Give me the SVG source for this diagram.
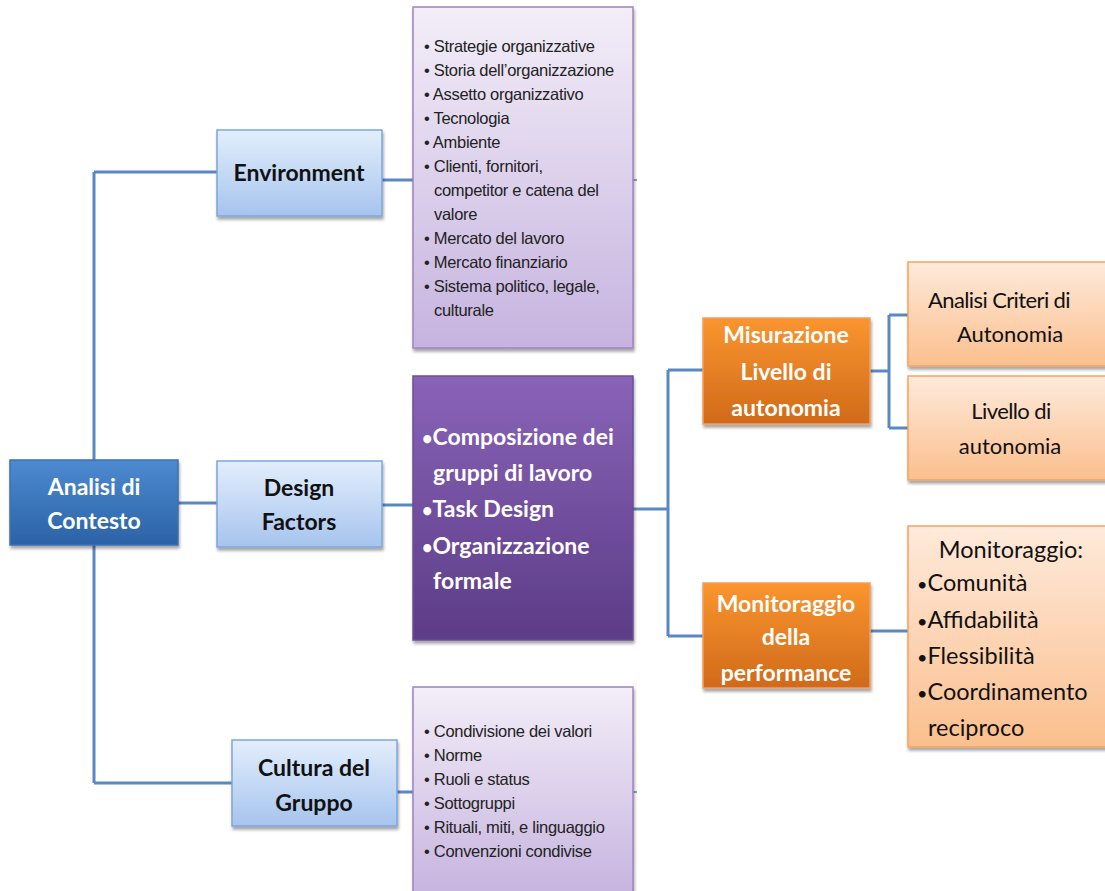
<svg xmlns="http://www.w3.org/2000/svg" width="1105" height="891" viewBox="0 0 1105 891">
  <defs>
    <linearGradient id="gDarkBlue" x1="0" y1="0" x2="0" y2="1">
      <stop offset="0" stop-color="#4d8ad0"/>
      <stop offset="1" stop-color="#2b62a6"/>
    </linearGradient>
    <linearGradient id="gLightBlue" x1="0" y1="0" x2="0" y2="1">
      <stop offset="0" stop-color="#e3eefc"/>
      <stop offset="1" stop-color="#a6c4ee"/>
    </linearGradient>
    <linearGradient id="gLilac" x1="0" y1="0" x2="0" y2="1">
      <stop offset="0" stop-color="#f3eef8"/>
      <stop offset="1" stop-color="#c6b3df"/>
    </linearGradient>
    <linearGradient id="gPurple" x1="0" y1="0" x2="0" y2="1">
      <stop offset="0" stop-color="#8963b8"/>
      <stop offset="1" stop-color="#5c3c86"/>
    </linearGradient>
    <linearGradient id="gOrange" x1="0" y1="0" x2="0" y2="1">
      <stop offset="0" stop-color="#fa952f"/>
      <stop offset="1" stop-color="#d06a1a"/>
    </linearGradient>
    <linearGradient id="gPeach" x1="0" y1="0" x2="0" y2="1">
      <stop offset="0" stop-color="#feeadb"/>
      <stop offset="1" stop-color="#fbbf8d"/>
    </linearGradient>
    <filter id="shadow" x="-10%" y="-10%" width="120%" height="125%">
      <feDropShadow dx="1" dy="3" stdDeviation="1.5" flood-color="#000" flood-opacity="0.35"/>
    </filter>
  </defs>
  <style>
    .link { fill: none; stroke: #5a88c2; stroke-width: 3; }
    .stub { fill: none; stroke: #5a88c2; stroke-width: 1.5; }
    .box { filter: url(#shadow); stroke-width: 1.5; }
    .dblue { fill: url(#gDarkBlue); stroke: #3c70b0; }
    .lblue { fill: url(#gLightBlue); stroke: #7ea6dc; }
    .lilac { fill: url(#gLilac); stroke: #9c84c2; }
    .purple { fill: url(#gPurple); stroke: #6d4d98; }
    .orange { fill: url(#gOrange); stroke: #f0a060; }
    .peach { fill: url(#gPeach); stroke: #f5a263; }
    .head { font-family: Lato, "Liberation Sans", sans-serif; font-weight: bold; font-size: 23px; text-anchor: middle; }
    .white { fill: #ffffff; }
    .black { fill: #111111; }
    .list { font-family: "Liberation Sans", Arial, sans-serif; font-size: 16.5px; fill: #222222; letter-spacing: -0.3px; }
    .big { font-family: Lato, "Liberation Sans", sans-serif; font-weight: bold; font-size: 23px; fill: #ffffff; }
    .peachtxt { font-family: Lato, "Liberation Sans", sans-serif; font-size: 22px; fill: #111111; text-anchor: middle; }
    .tight { letter-spacing: -0.6px; }
    .mlist { font-family: Lato, "Liberation Sans", sans-serif; font-size: 23.5px; fill: #111111; }
    .dot { font-size: 18px; }
  </style>

  <!-- connectors -->
  <g id="connectors">
    <path class="link" d="M94 172 V783"/>
    <path class="link" d="M94 172 H217"/>
    <path class="link" d="M178 503 H217"/>
    <path class="link" d="M94 783 H232"/>
    <path class="link" d="M382 180 H413"/>
    <path class="link" d="M382 505 H413"/>
    <path class="link" d="M397 792 H413"/>
    <path class="stub" d="M633 180 H637"/>
    <path class="stub" d="M633 792 H637"/>
    <path class="link" d="M633 509 H668"/>
    <path class="link" d="M668 370 V636"/>
    <path class="link" d="M668 370 H703"/>
    <path class="link" d="M668 636 H703"/>
    <path class="link" d="M870 371 H889"/>
    <path class="link" d="M889 315 V428"/>
    <path class="link" d="M889 315 H908"/>
    <path class="link" d="M889 428 H908"/>
    <path class="link" d="M870 631 H908"/>
  </g>

  <!-- root -->
  <g id="analisi-contesto">
    <rect class="box dblue" x="10" y="460" width="168" height="85"/>
    <text class="head white" x="94" y="495">Analisi di</text>
    <text class="head white" x="94" y="529">Contesto</text>
  </g>

  <!-- first level -->
  <g id="environment">
    <rect class="box lblue" x="217" y="130" width="165" height="86"/>
    <text class="head black" x="299" y="181">Environment</text>
  </g>
  <g id="design-factors">
    <rect class="box lblue" x="217" y="461" width="165" height="86"/>
    <text class="head black" x="299" y="496">Design</text>
    <text class="head black" x="299" y="530">Factors</text>
  </g>
  <g id="cultura-gruppo">
    <rect class="box lblue" x="232" y="740" width="165" height="86"/>
    <text class="head black" x="314" y="776">Cultura del</text>
    <text class="head black" x="314" y="811">Gruppo</text>
  </g>

  <!-- environment factors -->
  <g id="environment-list">
    <rect class="box lilac" x="413" y="7" width="220" height="341"/>
    <g class="list">
      <text x="424" y="52">• Strategie organizzative</text>
      <text x="424" y="76">• Storia dell’organizzazione</text>
      <text x="424" y="100">• Assetto organizzativo</text>
      <text x="424" y="124">• Tecnologia</text>
      <text x="424" y="148">• Ambiente</text>
      <text x="424" y="172">• Clienti, fornitori,</text>
      <text x="434" y="196">competitor e catena del</text>
      <text x="434" y="220">valore</text>
      <text x="424" y="244">• Mercato del lavoro</text>
      <text x="424" y="268">• Mercato finanziario</text>
      <text x="424" y="292">• Sistema politico, legale,</text>
      <text x="434" y="316">culturale</text>
    </g>
  </g>

  <!-- design factors detail -->
  <g id="design-list">
    <rect class="box purple" x="413" y="376" width="220" height="264"/>
    <g class="big">
      <text x="422" y="445"><tspan class="dot">•</tspan>Composizione dei</text>
      <text x="433" y="481">gruppi di lavoro</text>
      <text x="422" y="517"><tspan class="dot">•</tspan>Task Design</text>
      <text x="422" y="554"><tspan class="dot">•</tspan>Organizzazione</text>
      <text x="433" y="589">formale</text>
    </g>
  </g>

  <!-- group culture factors -->
  <g id="cultura-list">
    <rect class="box lilac" x="413" y="687" width="220" height="210"/>
    <g class="list">
      <text x="424" y="737">• Condivisione dei valori</text>
      <text x="424" y="761">• Norme</text>
      <text x="424" y="785">• Ruoli e status</text>
      <text x="424" y="809">• Sottogruppi</text>
      <text x="424" y="833">• Rituali, miti, e linguaggio</text>
      <text x="424" y="857">• Convenzioni condivise</text>
    </g>
  </g>

  <!-- measurement branch -->
  <g id="misurazione">
    <rect class="box orange" x="703" y="318" width="167" height="106"/>
    <text class="head white" x="786" y="343">Misurazione</text>
    <text class="head white" x="786" y="380">Livello di</text>
    <text class="head white" x="786" y="416">autonomia</text>
  </g>
  <g id="analisi-criteri">
    <rect class="box peach" x="908" y="262" width="200" height="104"/>
    <text class="peachtxt tight" x="999" y="308">Analisi Criteri di</text>
    <text class="peachtxt" x="1010" y="342">Autonomia</text>
  </g>
  <g id="livello-autonomia">
    <rect class="box peach" x="908" y="376" width="200" height="104"/>
    <text class="peachtxt tight" x="1011" y="419">Livello di</text>
    <text class="peachtxt" x="1010" y="454">autonomia</text>
  </g>

  <!-- monitoring branch -->
  <g id="monitoraggio-performance">
    <rect class="box orange" x="703" y="583" width="167" height="105"/>
    <text class="head white" x="786" y="612">Monitoraggio</text>
    <text class="head white" x="786" y="645">della</text>
    <text class="head white" x="786" y="681">performance</text>
  </g>
  <g id="monitoraggio-list">
    <rect class="box peach" x="908" y="526" width="200" height="221"/>
    <g class="mlist">
      <text x="1011" y="558" text-anchor="middle">Monitoraggio:</text>
      <text x="917" y="591"><tspan class="dot">•</tspan>Comunità</text>
      <text x="917" y="628"><tspan class="dot">•</tspan>Affidabilità</text>
      <text x="917" y="664"><tspan class="dot">•</tspan>Flessibilità</text>
      <text x="917" y="700"><tspan class="dot">•</tspan>Coordinamento</text>
      <text x="928" y="736">reciproco</text>
    </g>
  </g>
</svg>
